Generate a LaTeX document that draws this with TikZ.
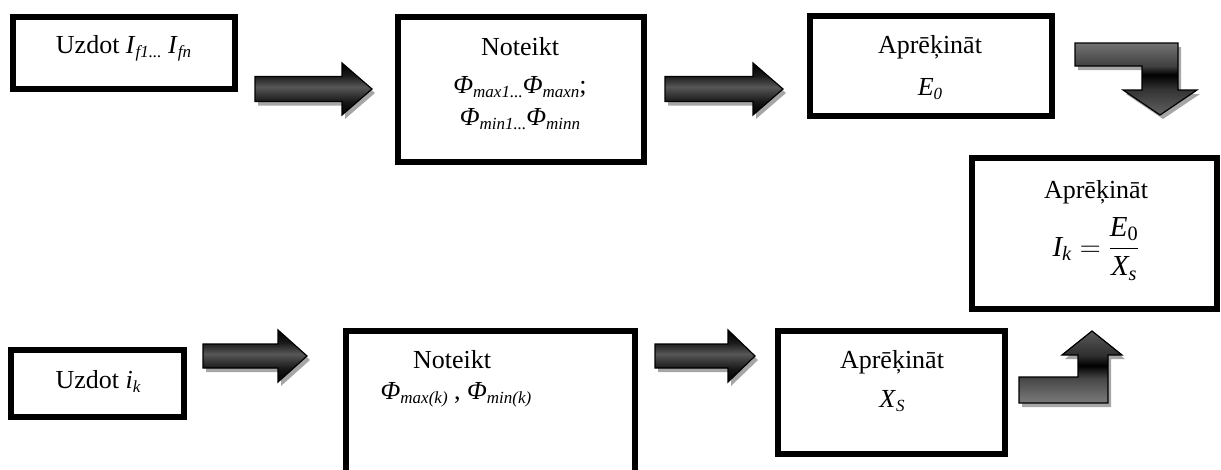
\RequirePackage{fix-cm}
\documentclass[tikz,border=0pt]{standalone}
\usepackage{amsmath}
\usepackage{fontspec}
\setmainfont{Liberation Serif}
\usetikzlibrary{shadows}
\pgfdeclareverticalshading{harrowshade}{100bp}{color(0bp)=(black); color(25bp)=(black); color(37bp)=(black!92); color(52bp)=(black!66); color(63bp)=(black!90); color(75bp)=(black); color(100bp)=(black)}
\pgfdeclareverticalshading{bentdownshade}{100bp}{color(0bp)=(black!55); color(25bp)=(black!62); color(43bp)=(black!80); color(53bp)=(black); color(59bp)=(black!75); color(75bp)=(black!55); color(100bp)=(black!55)}
\pgfdeclareverticalshading{bentupshade}{100bp}{color(0bp)=(black!52); color(25bp)=(black!52); color(42bp)=(black!72); color(51bp)=(black); color(58bp)=(black!82); color(75bp)=(black!65); color(100bp)=(black!65)}
\newcommand\lsub[1]{\raisebox{-4pt}{\fontsize{17}{17}\selectfont\itshape #1}}
\newcommand\mt[1]{\text{\itshape #1}}
\begin{document}
\begin{tikzpicture}[x=1pt,y=-1pt,
  box/.style={draw=black, line width=6pt, inner sep=0pt, outer sep=0pt},
  txt/.style={font=\fontsize{26}{30}\selectfont, anchor=base, inner sep=0pt},
  blk/.style={draw=black, line width=1.2pt, line join=miter,
    drop shadow={shadow xshift=3pt, shadow yshift=-4pt, fill=black!35, opacity=1}},
  hblk/.style={blk, shading=harrowshade},
]
\useasboundingbox (0,0) rectangle (1221,469);
\clip (0,0) rectangle (1221,469);

% boxes
\node[box, minimum width=222pt, minimum height=72pt]  (b1) at (124,53) {};
\node[box, minimum width=246pt, minimum height=145pt] (b2) at (521,89.5) {};
\node[box, minimum width=242pt, minimum height=100pt] (b3) at (931,66) {};
\node[box, minimum width=245pt, minimum height=151pt] (b4) at (1094.5,233.5) {};
\node[box, minimum width=173pt, minimum height=67pt]  (b5) at (97.5,383.5) {};
\node[box, minimum width=289pt, minimum height=206pt] (b6) at (490.5,434) {};
\node[box, minimum width=227pt, minimum height=123pt] (b7) at (891.5,392.5) {};

% texts
\node[txt] (t1) at (123.5,53) {Uzdot \textit{I}\lsub{f1...} \textit{I}\lsub{fn}};
\node[txt] (t2a) at (520,55) {Noteikt};
\node[txt] (t2b) at (520,93) {\textit{Φ}\lsub{max1...}\textit{Φ}\lsub{maxn};};
\node[txt] (t2c) at (520,125) {\textit{Φ}\lsub{min1...}\textit{Φ}\lsub{minn}};
\node[txt] (t3a) at (930,53) {Aprēķināt};
\node[txt] (t3b) at (930,95) {\textit{E}\lsub{0}};
\node[txt] (t4a) at (1096,198) {Aprēķināt};
\node[txt, font=\fontsize{29}{33}\selectfont] (t4b) at (1096,256) {$\mt{I}_{\mt{k}}=\dfrac{\mt{E}_{\text{0}}}{\mt{X}_{\mt{s}}}$};
\node[txt] (t5) at (98,388) {Uzdot \textit{i}\lsub{k}};
\node[txt] (t6a) at (452,368) {Noteikt};
\node[txt] (t6b) at (456,399) {\textit{Φ}\lsub{max(k)} , \textit{Φ}\lsub{min(k)}};
\node[txt] (t7a) at (892,368) {Aprēķināt};
\node[txt] (t7b) at (892,407) {\textit{X}\lsub{S}};

% block arrows
\path[hblk] (255,76.5) -- (342,76.5) -- (342,63) -- (372,89) -- (342,115) -- (342,101.5) -- (255,101.5) -- cycle;
\path[hblk] (665,76.5) -- (753,76.5) -- (753,63) -- (783,89) -- (753,115) -- (753,101.5) -- (665,101.5) -- cycle;
\path[hblk] (203,344) -- (278,344) -- (278,330) -- (307,356) -- (278,382) -- (278,368) -- (203,368) -- cycle;
\path[hblk] (655,344) -- (728,344) -- (728,330) -- (755,356) -- (728,382) -- (728,368) -- (655,368) -- cycle;
\path[blk, shading=bentdownshade] (1075,43) -- (1178,43) -- (1178,90) -- (1197,90) -- (1160,115) -- (1123,90) -- (1142,90) -- (1142,66) -- (1075,66) -- cycle;
\path[blk, shading=bentupshade] (1019,377) -- (1078,377) -- (1078,355) -- (1062,355) -- (1092,331) -- (1122,355) -- (1108,355) -- (1108,403) -- (1019,403) -- cycle;
\end{tikzpicture}
\end{document}
